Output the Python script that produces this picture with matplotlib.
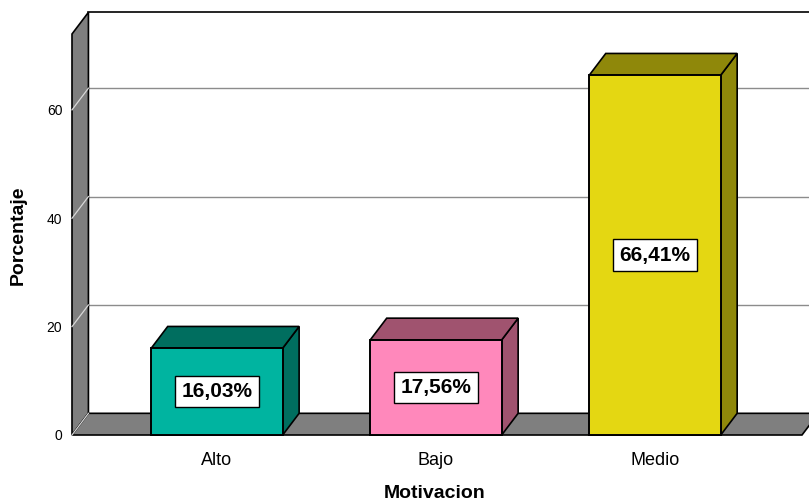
import matplotlib.pyplot as plt
from matplotlib.patches import Polygon, Rectangle

plt.rcParams['font.family'] = ['Liberation Sans', 'DejaVu Sans']

# data
categories = ['Alto', 'Bajo', 'Medio']
percent = [16.03, 17.56, 66.41]
labels = ['16,03%', '17,56%', '66,41%']
yticks = [0, 20, 40, 60]

face_colors = ['#00B4A0', '#FF88BB', '#E4D712']
dark_colors = ['#006E5F', '#A0536F', '#8F880A']

# geometry (data units)
x0, x1 = -0.662, 2.703
ymax = 74
dx, dy = 0.075, 4.0     # depth offset of the 3d look
bw = 0.6
floor_end = 2.671

fig = plt.figure(figsize=(8.09, 5.04), dpi=100)
ax = fig.add_axes([72 / 809, 69 / 504, 737 / 809, 401 / 504])
ax.set_xlim(x0, x1)
ax.set_ylim(0, ymax)
for s in ax.spines.values():
    s.set_visible(False)

gray = '#7F7F7F'

# back wall
ax.add_patch(Rectangle((x0 + dx, dy), x1 + 0.2 - x0, ymax, facecolor='white',
                       edgecolor='none', zorder=0, clip_on=False))
ax.plot([x0 + dx, x1 + 0.1], [ymax + dy, ymax + dy], color='black', lw=1.2,
        zorder=1, clip_on=False)
for t in yticks[1:]:
    ax.plot([x0 + dx, x1 + 0.1], [t + dy, t + dy], color='#8C8C8C', lw=1.0,
            zorder=1, clip_on=False)

# left wall
ax.add_patch(Polygon([(x0, 0), (x0 + dx, dy), (x0 + dx, ymax + dy), (x0, ymax)],
                     closed=True, facecolor=gray, edgecolor='black', lw=1.2,
                     zorder=2, clip_on=False))
for t in yticks[1:]:
    ax.plot([x0, x0 + dx], [t, t + dy], color='#D8D8D8', lw=0.9, zorder=3,
            clip_on=False)

# floor
ax.add_patch(Polygon([(x0, 0), (floor_end, 0), (floor_end + dx, dy), (x0 + dx, dy)],
                     closed=True, facecolor=gray, edgecolor='black', lw=1.2,
                     zorder=3, clip_on=False))
ax.plot([x0, x0 + dx], [0, dy], color='#D8D8D8', lw=0.9, zorder=4, clip_on=False)

# bars
for i, v in enumerate(percent):
    l, r = i - bw / 2, i + bw / 2
    ax.add_patch(Polygon([(r, 0), (r + dx, dy), (r + dx, v + dy), (r, v)], closed=True,
                         facecolor=dark_colors[i], edgecolor='black', lw=1.2, zorder=5,
                         clip_on=False))
    ax.add_patch(Polygon([(l, v), (r, v), (r + dx, v + dy), (l + dx, v + dy)], closed=True,
                         facecolor=dark_colors[i], edgecolor='black', lw=1.2, zorder=5,
                         clip_on=False))
    ax.add_patch(Rectangle((l, 0), bw, v, facecolor=face_colors[i], edgecolor='black',
                           lw=1.4, zorder=6, clip_on=False))
    ax.text(i, v / 2, labels[i], ha='center', va='center', fontsize=15,
            fontweight='bold', zorder=8,
            bbox=dict(boxstyle='square,pad=0.3', facecolor='white',
                      edgecolor='black', lw=1.0))

ax.set_xticks(range(len(categories)))
ax.set_xticklabels(categories, fontsize=13)
ax.set_yticks(yticks)
ax.set_yticklabels([str(t) for t in yticks], fontsize=10)
ax.tick_params(axis='x', length=0, pad=12)
ax.tick_params(axis='y', length=0, pad=7)

fig.text(18 / 809, 1 - 235 / 504, 'Porcentaje', rotation=90, ha='center', va='center',
         fontsize=14, fontweight='bold')
fig.text(435 / 809, 1 - 493 / 504, 'Motivacion', ha='center', va='center',
         fontsize=14, fontweight='bold')

fig.savefig('out.png', dpi=100)
